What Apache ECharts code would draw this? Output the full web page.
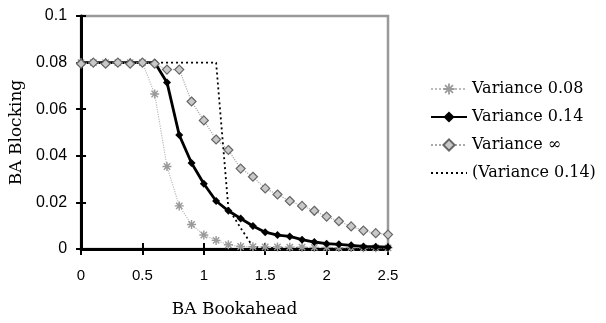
<!DOCTYPE html>
<html>
<head>
<meta charset="utf-8">
<script src="https://cdn.jsdelivr.net/npm/echarts@6/dist/echarts.min.js"></script>
<style>html,body{margin:0;padding:0;background:#fff}#c{width:606px;height:323px}</style>
</head>
<body>
<div id="c"></div>
<script>
var xs = [0,0.1,0.2,0.3,0.4,0.5,0.6,0.7,0.8,0.9,1.0,1.1,1.2,1.3,1.4,1.5,1.6,1.7,1.8,1.9,2.0,2.1,2.2,2.3,2.4,2.5];
var var008 = [0.08,0.08,0.08,0.08,0.08,0.08,0.0665,0.0354,0.0185,0.0105,0.006,0.0037,0.0018,0.0011,0.001,0.0009,0.0009,0.0008,0.0008,0.0007,0.0007,0.0006,0.0006,0.0005,0.0005,0.0005];
var var014 = [0.08,0.08,0.08,0.08,0.08,0.08,0.08,0.0715,0.0489,0.0369,0.028,0.0206,0.0164,0.0131,0.0099,0.0072,0.006,0.0054,0.004,0.003,0.0023,0.002,0.0016,0.0011,0.001,0.0008];
var varInf = [0.0795,0.08,0.0795,0.08,0.0795,0.08,0.0795,0.077,0.077,0.0633,0.0552,0.047,0.0425,0.0345,0.031,0.026,0.0234,0.0206,0.0185,0.0164,0.0139,0.0119,0.0097,0.0079,0.0068,0.0062];
var var014b = [0.08,0.08,0.08,0.08,0.08,0.08,0.08,0.08,0.08,0.08,0.08,0.08,0.0175,0.009,0.001,0.0005,0.0004,0.0004,0.0003,0.0003,0.0003,0.0002,0.0002,0.0002,0.0002,0.0002];
var names = ['Variance 0.08','Variance 0.14','Variance \u221e','(Variance 0.14)'];
var xTicks = ['0','0.5','1','1.5','2','2.5'];

function pairs(v){ return xs.map(function(x,i){ return [x, v[i]]; }); }
var star = 'path://M-0.8,-5L0.8,-5L0.8,5L-0.8,5Z M-5,-0.8L5,-0.8L5,0.8L-5,0.8Z M-4.1,-3L-3,-4.1L4.1,3L3,4.1Z M3,-4.1L4.1,-3L-3,4.1L-4.1,3Z';
var serif = 'DejaVu Serif';
var sans = 'Liberation Sans';

var chart = echarts.init(document.getElementById('c'), null, {renderer:'canvas'});
chart.setOption({
  animation:false,
  backgroundColor:'#fff',
  grid:{left:80,right:218,top:16,bottom:71,show:true,borderColor:'#999',borderWidth:2.5,backgroundColor:'transparent'},
  legend:{
    orient:'vertical', left:425, top:76, itemWidth:36, itemHeight:14, itemGap:12,
    textStyle:{fontFamily:serif,fontSize:16,color:'#000'},
    data:[names[0],names[1],names[2],{name:names[3],itemStyle:{opacity:0}}]
  },
  xAxis:[{
    type:'value',min:0,max:2.5,interval:0.5,
    name:'BA Bookahead',nameLocation:'middle',nameGap:52,
    nameTextStyle:{fontFamily:serif,fontSize:17,color:'#000'},
    axisLine:{show:true,onZero:false,lineStyle:{color:'#000',width:3}},
    axisTick:{show:true,length:6,lineStyle:{color:'#000',width:2}},
    axisLabel:{fontFamily:sans,fontSize:15,color:'#000',margin:19,formatter:function(v){var i=Math.round(v/0.5);return xTicks[i];}},
    splitLine:{show:false}
  },{
    type:'value',min:0,max:2.5,interval:0.5,position:'bottom',
    axisLine:{show:false},axisTick:{show:true,inside:true,length:6,lineStyle:{color:'#000',width:2}},
    axisLabel:{show:false},splitLine:{show:false}
  }],
  yAxis:[{
    type:'value',min:0,max:0.1,interval:0.02,
    name:'BA Blocking',nameLocation:'middle',nameGap:51,nameRotate:90,
    nameTextStyle:{fontFamily:serif,fontSize:17,color:'#000'},
    axisLine:{show:true,onZero:false,lineStyle:{color:'#000',width:3}},
    axisTick:{show:true,length:5,lineStyle:{color:'#000',width:2}},
    axisLabel:{fontFamily:sans,fontSize:16,color:'#000',margin:14},
    splitLine:{show:false}
  },{
    type:'value',min:0,max:0.1,interval:0.02,position:'left',
    axisLine:{show:false},axisTick:{show:true,inside:true,length:5,lineStyle:{color:'#000',width:2}},
    axisLabel:{show:false},splitLine:{show:false}
  }],
  series:[
    {name:names[0],type:'line',data:pairs(var008),symbol:star,symbolSize:9,
      lineStyle:{color:'#bbb',width:1.2,type:'dotted'},
      itemStyle:{color:'#9a9a9a',borderWidth:0},z:3},
    {name:names[1],type:'line',data:pairs(var014),symbol:'diamond',symbolSize:8,
      lineStyle:{color:'#000',width:2.8,type:'solid'},
      itemStyle:{color:'#000',borderWidth:0},z:4},
    {name:names[2],type:'line',data:pairs(varInf),symbol:'diamond',symbolSize:9,
      lineStyle:{color:'#aaa',width:1.2,type:'dotted'},
      itemStyle:{color:'#c8c8c8',borderColor:'#666',borderWidth:1.2},z:5},
    {name:names[3],type:'line',data:pairs(var014b),symbol:'none',showSymbol:false,
      lineStyle:{color:'#000',width:1.8,type:[2,3]},
      itemStyle:{color:'#000'},z:2}
  ]
});
</script>
</body>
</html>
